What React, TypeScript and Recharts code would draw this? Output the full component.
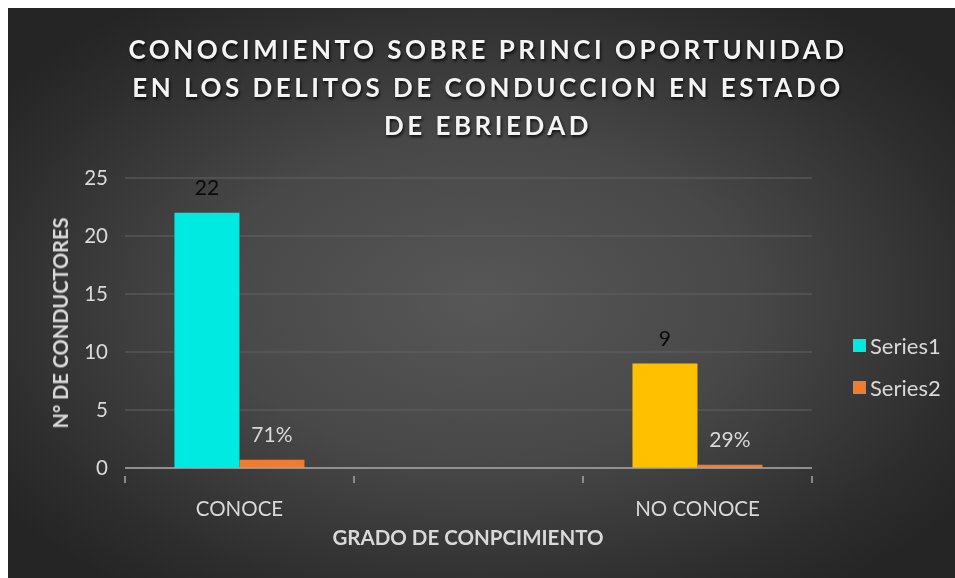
import { Bar, BarChart, CartesianGrid, Cell, LabelList, XAxis, YAxis } from "recharts";

const categories = ["CONOCE", "", "NO CONOCE"];
const series1 = [22, null, 9];
const series2 = [0.71, null, 0.29];
const series1Colors = ["#00EAE2", "#00EAE2", "#FFC000"];
const yTicks = [0, 5, 10, 15, 20, 25];

const W = 947;
const H = 570;
const margin = { top: 170, right: 143, left: 57, bottom: 70 };
const Y_W = 60;
const BAND = (W - margin.left - margin.right - Y_W) / categories.length;
const FONT = "Lato, 'Liberation Sans', sans-serif";
const TXT = "#d9d9d9";

const data = categories.map((name, i) => ({ name, s1: series1[i], s2: series2[i] }));

const XTick = (props: any) => {
  const { x, y, payload, index } = props;
  const left = x - BAND / 2;
  return (
    <g>
      <line x1={left} x2={left} y1={y} y2={y + 7} stroke="#a6a6a6" strokeWidth={1.5} />
      {index === categories.length - 1 && (
        <line x1={x + BAND / 2} x2={x + BAND / 2} y1={y} y2={y + 7} stroke="#a6a6a6" strokeWidth={1.5} />
      )}
      <text x={x} y={y + 40} textAnchor="middle" fill={TXT} fontSize={20.5} fontFamily={FONT}>
        {payload.value}
      </text>
    </g>
  );
};

const legendItems = [
  { name: "Series1", color: "#00EAE2" },
  { name: "Series2", color: "#F07D2F" },
];

const App = () => {
  return (
    <div style={{ position: "relative", width: W, height: H, fontFamily: FONT }}>
      <style>{"html,body{overflow:hidden}"}</style>
      <div
        style={{
          position: "fixed",
          left: 8,
          top: 8,
          width: 1000,
          height: 600,
          background: "radial-gradient(ellipse 590px 360px at 472px 292px, #575757 0%, #484848 45%, #2d2d2d 85%, #252525 100%)",
        }}
      />
      <div
        style={{
          position: "absolute",
          left: 0,
          width: 960,
          top: 22,
          textAlign: "center",
          color: "#f4f4f4",
          fontSize: 26,
          fontWeight: 700,
          letterSpacing: 3.5,
          lineHeight: "38px",
          textShadow: "1px 2px 3px rgba(0,0,0,0.8)",
        }}
      >
        CONOCIMIENTO SOBRE PRINCI OPORTUNIDAD
        <br />
        EN LOS DELITOS DE CONDUCCION EN ESTADO
        <br />
        DE EBRIEDAD
      </div>
      <div
        style={{
          position: "absolute",
          left: 52,
          top: 315,
          transform: "translate(-50%, -50%) rotate(-90deg)",
          whiteSpace: "nowrap",
          color: TXT,
          fontSize: 20,
          fontWeight: 700,
        }}
      >
        N° DE CONDUCTORES
      </div>
      <div
        style={{
          position: "absolute",
          left: 460,
          top: 529,
          transform: "translate(-50%, -50%)",
          whiteSpace: "nowrap",
          color: TXT,
          fontSize: 20.5,
          fontWeight: 700,
        }}
      >
        GRADO DE CONPCIMIENTO
      </div>
      <div style={{ position: "absolute", left: 845, top: 325 }}>
        {legendItems.map((it) => (
          <div key={it.name} style={{ display: "flex", alignItems: "center", height: 24, marginBottom: 18 }}>
            <span style={{ width: 13, height: 13, background: it.color, marginRight: 4, display: "inline-block" }} />
            <span style={{ color: TXT, fontSize: 22 }}>{it.name}</span>
          </div>
        ))}
      </div>
      <div style={{ position: "absolute", left: 0, top: 0 }}>
        <BarChart width={W} height={H} data={data} margin={margin} barCategoryGap="21.6%" barGap={0}>
          <CartesianGrid vertical={false} stroke="#626262" strokeWidth={1} />
          <XAxis
            dataKey="name"
            height={40}
            axisLine={{ stroke: "#a6a6a6", strokeWidth: 1.5 }}
            tickLine={false}
            tick={<XTick />}
            interval={0}
          />
          <YAxis
            width={Y_W}
            domain={[0, 25]}
            ticks={yTicks}
            axisLine={false}
            tickLine={false}
            tickSize={0}
            tickMargin={17}
            tick={{ fill: TXT, fontSize: 20.5, fontFamily: FONT }}
          />
          <Bar dataKey="s1" isAnimationActive={false}>
            {data.map((d, i) => (
              <Cell key={i} fill={series1Colors[i]} />
            ))}
            <LabelList
              dataKey="s1"
              position="top"
              offset={18}
              fill="#0a0a0a"
              fontSize={21}
              fontFamily={FONT}
              formatter={(v: any) => (v == null ? "" : v)}
            />
          </Bar>
          <Bar dataKey="s2" fill="#F07D2F" isAnimationActive={false}>
            <LabelList
              dataKey="s2"
              position="top"
              offset={18}
              fill={TXT}
              fontSize={21}
              fontFamily={FONT}
              formatter={(v: any) => (v == null ? "" : Math.round(v * 100) + "%")}
            />
          </Bar>
        </BarChart>
      </div>
    </div>
  );
};

export default App;
